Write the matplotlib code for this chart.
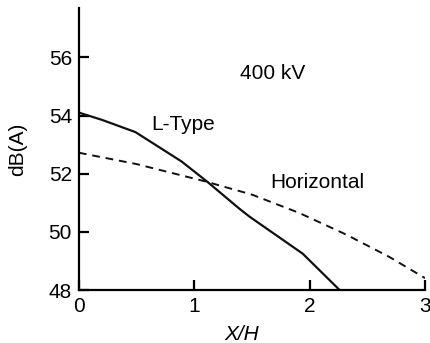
import numpy as np
import matplotlib.pyplot as plt

plt.rcParams['font.family'] = ['Liberation Sans', 'DejaVu Sans']

# values
ltype_x = [0.0, 0.2, 0.49, 0.89, 1.12, 1.39, 1.48, 1.94, 2.26]
ltype_y = [54.1, 53.85, 53.43, 52.42, 51.7, 50.8, 50.52, 49.25, 48.0]
horiz_x = [0.0, 0.5, 1.09, 1.5, 1.91, 2.32, 2.69, 3.0]
horiz_y = [52.72, 52.33, 51.74, 51.28, 50.65, 49.9, 49.14, 48.41]

fig = plt.figure(figsize=(4.31, 3.43), dpi=100)
ax = fig.add_axes([0.183, 0.1545, 0.803, 0.8225])

ax.plot(ltype_x, ltype_y, color='#111111', lw=1.6)
ax.plot(horiz_x, horiz_y, color='#111111', lw=1.4, linestyle=(0, (4, 3)))

ax.text(1.68, 55.45, '400 kV', fontsize=15, ha='center', va='center')
ax.text(0.9, 53.7, 'L-Type', fontsize=15, ha='center', va='center')
ax.text(2.07, 51.7, 'Horizontal', fontsize=15, ha='center', va='center')

ax.set_xlim(0, 3)
ax.set_ylim(48, 57.7)
ax.set_xticks([0, 1, 2, 3])
ax.set_yticks([48, 50, 52, 54, 56])
ax.spines['top'].set_visible(False)
ax.spines['right'].set_visible(False)
for s in ['left', 'bottom']:
    ax.spines[s].set_linewidth(1.6)
ax.tick_params(direction='in', length=7, width=1.6, labelsize=15, pad=5)
ax.set_xlabel('X/H', fontsize=15, style='italic')
ax.set_ylabel('dB(A)', fontsize=15)
ax.xaxis.set_label_coords(0.471, -0.124)
ax.yaxis.set_label_coords(-0.150, 0.5)

fig.savefig('out.png', dpi=100)
